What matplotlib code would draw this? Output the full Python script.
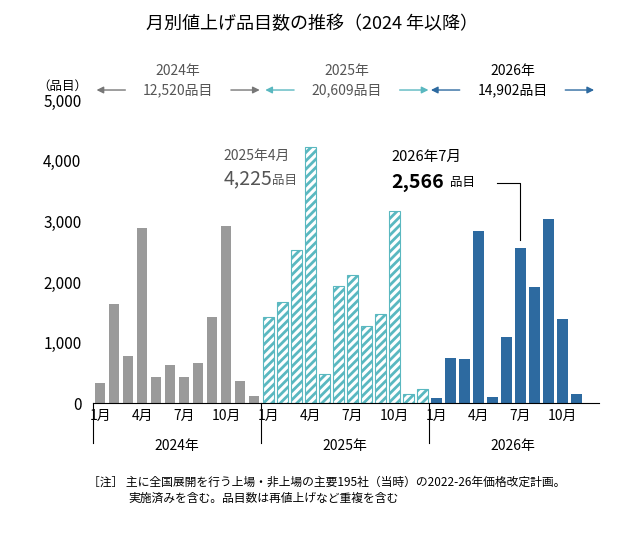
import matplotlib
matplotlib.use("Agg")
import matplotlib.pyplot as plt
plt.rcParams['font.family'] = ['Noto Sans CJK JP', 'DejaVu Sans']
plt.rcParams['hatch.linewidth'] = 2.0

v2024 = [330, 1630, 775, 2890, 430, 630, 430, 660, 1420, 2920, 360, 115]
v2025 = [1420, 1670, 2525, 4225, 480, 1930, 2110, 1270, 1470, 3170, 150, 230]
v2026 = [80, 740, 730, 2850, 100, 1090, 2566, 1910, 3040, 1390, 150]
years = ["2024年", "2025年", "2026年"]
totals = ["12,520品目", "20,609品目", "14,902品目"]
month_ticks = ["1月", "4月", "7月", "10月"]

c24, c25, c26 = "#9a9a9a", "#5ab8c0", "#2d6aa0"
fig = plt.figure(figsize=(6.25, 5.39), dpi=100)
ax = fig.add_axes([0.148, 0.252, 0.81, 0.562])
w = 0.75
ax.bar(range(0, 12), v2024, w, color=c24)
ax.bar(range(12, 24), v2025, w, color="white", edgecolor=c25, hatch="////", linewidth=0.8)
ax.bar(range(24, 24 + len(v2026)), v2026, w, color=c26)
ax.set_xlim(-0.55, 35.6)
ax.set_ylim(0, 5000)
ax.set_yticks(range(0, 5001, 1000))
ax.set_yticklabels([f"{v:,}" for v in range(0, 5001, 1000)], fontsize=11)
for s in ["top", "right", "left"]:
    ax.spines[s].set_visible(False)
ax.tick_params(axis="y", length=0, pad=8)
ticks, labs = [], []
for y in range(3):
    for m, l in zip([0, 3, 6, 9], month_ticks):
        ticks.append(12 * y + m); labs.append(l)
ax.set_xticks(ticks)
ax.set_xticklabels(labs, fontsize=10)
ax.tick_params(axis="x", length=0, pad=4)
for b in [-0.5, 11.5, 23.5]:
    ax.plot([b, b], [0, -650], color="black", lw=0.8, clip_on=False)
for i, yl in enumerate(years):
    ax.text(12 * i + 5.5, -700, yl, ha="center", va="center", fontsize=10)

fig.text(0.5, 0.955, "月別値上げ品目数の推移（2024 年以降）", ha="center", va="center", fontsize=13)
fig.text(0.06, 0.84, "（品目）", fontsize=9, va="center")
cols = ["#777777", c25, c26]
centers = [0.285, 0.555, 0.82]
for i in range(3):
    cx = centers[i]
    fig.text(cx, 0.868, years[i], ha="center", va="center", fontsize=10, color="#555555" if i < 2 else "black")
    fig.text(cx, 0.833, totals[i], ha="center", va="center", fontsize=10, color="#555555" if i < 2 else "black")
    for x0, x1 in [(cx - 0.08, cx - 0.135), (cx + 0.08, cx + 0.135)]:
        fig.add_artist(matplotlib.patches.FancyArrowPatch((x0, 0.833), (x1, 0.833), transform=fig.transFigure,
                       arrowstyle="-|>", mutation_scale=10, color=cols[i], lw=1))

ax.text(8.8, 4020, "2025年4月", fontsize=10, color="#555555", ha="left")
ax.text(8.8, 3620, "4,225", fontsize=14, color="#555555", ha="left")
ax.text(12.3, 3620, "品目", fontsize=9, color="#555555", ha="left")
ax.text(20.8, 4000, "2026年7月", fontsize=10.5, ha="left")
ax.text(20.8, 3560, "2,566", fontsize=14, ha="left", fontweight="bold")
ax.text(25.0, 3580, "品目", fontsize=9, ha="left")
ax.plot([28.3, 30, 30], [3640, 3640, 2700], color="black", lw=0.8)

fig.text(0.14, 0.105, "［注］ 主に全国展開を行う上場・非上場の主要195社（当時）の2022-26年価格改定計画。", fontsize=8.5, va="center")
fig.text(0.205, 0.075, "実施済みを含む。品目数は再値上げなど重複を含む", fontsize=8.5, va="center")
fig.savefig("out.png", dpi=100)
